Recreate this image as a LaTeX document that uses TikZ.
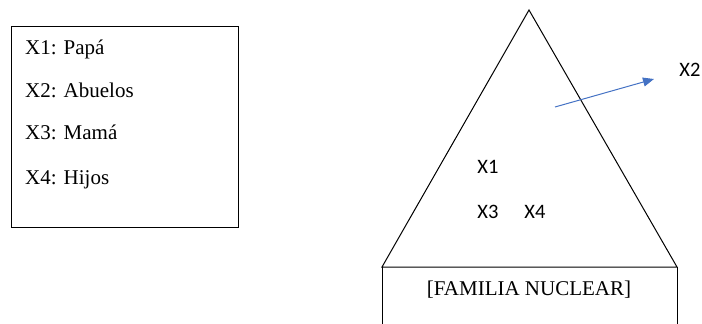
\documentclass[tikz,border=0pt]{standalone}
\usepackage{fontspec}
\setmainfont{Liberation Serif}
\newfontfamily\calib{Carlito}
\usetikzlibrary{arrows.meta}
\definecolor{arrowblue}{HTML}{4472C4}
\tikzset{
  serif/.style={font=\fontsize{21}{25}\selectfont, inner sep=0pt},
  lbl/.style={font=\calib\fontsize{20.5}{24}\selectfont, inner sep=0pt},
  outline/.style={draw=black, line width=1pt},
  blue arrow/.style={draw=arrowblue, line width=1pt, -{Triangle[length=11pt,width=9pt]}}
}
\begin{document}
\begin{tikzpicture}[x=1pt,y=-1pt]
\useasboundingbox (0,0) rectangle (702,324);
\clip (0,0) rectangle (702,324);
% legend box
\node[outline, minimum width=227pt, minimum height=201pt, inner sep=0pt, anchor=north west] (legend) at (11,26) {};
\node[serif, anchor=base west] (l1) at (25,54) {X1: Papá};
\node[serif, anchor=base west] (l2) at (25,97) {X2: Abuelos};
\node[serif, anchor=base west] (l3) at (25,139) {X3: Mamá};
\node[serif, anchor=base west] (l4) at (25,184) {X4: Hijos};
% triangle
\coordinate (apex) at (529,10);
\coordinate (bl) at (382,267);
\coordinate (br) at (677,267);
\draw[outline, line join=miter] (bl) -- (apex) -- (br) -- cycle;
% bottom box (open at bottom of picture)
\coordinate (bbl) at (382,330);
\coordinate (bbr) at (677,330);
\draw[outline] (bl) -- (bbl);
\draw[outline] (br) -- (bbr);
\node[serif] (fam) at (529,290) {[FAMILIA NUCLEAR]};
% inner labels
\node[lbl] (x1) at (488,167) {X1};
\node[lbl] (x3) at (488,212) {X3};
\node[lbl] (x4) at (535,212) {X4};
% arrow to X2
\coordinate (a1) at (555,107);
\node[lbl] (x2) at (690,70) {X2};
\coordinate (a2) at (654,79);
\draw[blue arrow] (a1) -- (a2);
\end{tikzpicture}
\end{document}
